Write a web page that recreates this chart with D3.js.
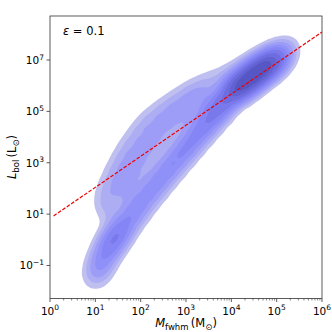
<!DOCTYPE html>
<html>
<head>
<meta charset="utf-8">
<script src="https://cdn.jsdelivr.net/npm/d3@7"></script>
<style>
  body { margin: 0; background: #fff; }
  text { font-family: "DejaVu Sans", sans-serif; fill: #000; }
</style>
</head>
<body>
<div id="graph"></div>
<script>
// representative sample points (log10 M_fwhm, log10 L_bol) with weights, read off the KDE shape
// ridge (lower tail -> core)
var ridgeLogM = [0.99, 1.06, 1.15, 1.26, 1.37, 1.50, 1.65, 1.83, 2.01, 2.21, 2.40, 2.60, 2.80, 3.00, 3.20, 3.40, 3.60, 3.79,
  4.02, 4.21, 4.41, 4.61, 4.79, 4.96, 5.12, 5.25]
var ridgeLogL = [-1.52, -1.17, -0.82, -0.43, -0.08, 0.23, 0.58, 1.01, 1.43, 1.86, 2.29, 2.72, 3.15, 3.57, 4.00, 4.43, 4.86, 5.29,
  5.72, 5.99, 6.26, 6.53, 6.77, 7.00, 7.23, 7.47]
var ridgeW = [0.3, 0.55, 0.8, 1.0, 1.15, 1.15, 1.05, 1.0, 0.95, 0.95, 1.0, 1.05, 1.1, 1.15, 1.25, 1.4, 1.65, 2.0,
  2.6, 3.2, 3.6, 3.4, 2.8, 1.9, 0.9, 0.3]
// upper-left shoulder (low density)
var shoulderLogM = [3.75, 4.13, 4.50, 4.85,
  3.42, 3.09, 2.78, 2.49, 2.21, 1.99, 1.79, 1.63, 1.48, 1.35, 1.24, 1.28,
  3.31, 3.02, 2.76, 2.51, 2.29, 2.10, 1.92, 1.76, 1.63]
var shoulderLogL = [6.30, 6.53, 6.84, 7.16,
  5.99, 5.68, 5.33, 4.98, 4.59, 4.12, 3.61, 3.11, 2.60, 2.10, 1.59, 1.08,
  5.44, 5.05, 4.66, 4.24, 3.77, 3.30, 2.80, 2.29, 1.78]
var shoulderW = [0.3, 0.4, 0.4, 0.3,
  0.45, 0.45, 0.45, 0.45, 0.45, 0.45, 0.45, 0.45, 0.45, 0.42, 0.38, 0.32,
  0.5, 0.5, 0.5, 0.5, 0.5, 0.5, 0.5, 0.45, 0.4]

// fill levels as share of peak density
var levels = [0.03, 0.065, 0.11, 0.17, 0.24, 0.33, 0.45, 0.6, 0.76]
var levelColors = ['#c0c0f0', '#adadf3', '#9d9df7', '#9090f9', '#8585f5', '#7979ec', '#6d6de0', '#6262d2', '#5656c4']

// red dashed relation
var lineM = [1.2, 1e6]
var lineL = [8.5, 1.23e8]

var xTicks = [1e0, 1e1, 1e2, 1e3, 1e4, 1e5, 1e6]
var yTicks = [1e-1, 1e1, 1e3, 1e5, 1e7]

var W = 332, H = 332
var m = {left: 50, right: 10, top: 16, bottom: 33.5}

var svg = d3.select('#graph').append('svg').attr('width', W).attr('height', H)

var x = d3.scaleLog().domain([1, 1e6]).range([m.left, W - m.right])
var y = d3.scaleLog().domain([Math.pow(10, -2.285), Math.pow(10, 8.713)]).range([H - m.bottom, m.top])

var pts = ridgeLogM.map((d, i) => ({m: Math.pow(10, d), l: Math.pow(10, ridgeLogL[i]), w: ridgeW[i]}))
  .concat(shoulderLogM.map((d, i) => ({m: Math.pow(10, d), l: Math.pow(10, shoulderLogL[i]), w: shoulderW[i]})))

svg.append('clipPath').attr('id', 'clip')
  .append('rect').attr('x', m.left).attr('y', m.top)
  .attr('width', W - m.left - m.right).attr('height', H - m.top - m.bottom)

var dens = d3.contourDensity()
  .x(d => x(d.m))
  .y(d => y(d.l))
  .weight(d => d.w)
  .size([W, H])
  .cellSize(2)
  .bandwidth(8)

var contour = dens.contours(pts)
var g = svg.append('g').attr('clip-path', 'url(#clip)')
levels.forEach((lv, i) => {
  g.append('path')
    .attr('d', d3.geoPath()(contour(lv * contour.max)))
    .attr('fill', levelColors[i])
})

g.append('path')
  .attr('d', d3.line().x(d => x(d[0])).y(d => y(d[1]))(lineM.map((d, i) => [d, lineL[i]])))
  .attr('fill', 'none').attr('stroke', '#ee0000').attr('stroke-width', 1.2)
  .attr('stroke-dasharray', '3.7,1.6')

// axes
var ax = svg.append('g')
ax.append('rect').attr('x', m.left).attr('y', m.top)
  .attr('width', W - m.left - m.right).attr('height', H - m.top - m.bottom)
  .attr('fill', 'none').attr('stroke', '#333').attr('stroke-width', 0.8)

var yb = H - m.bottom
xTicks.forEach(t => {
  ax.append('line').attr('x1', x(t)).attr('x2', x(t)).attr('y1', yb).attr('y2', yb + 3.5).attr('stroke', '#333').attr('stroke-width', 0.8)
  var tx = ax.append('text').attr('x', x(t)).attr('y', yb + 16).attr('text-anchor', 'middle').attr('font-size', 10.5)
  tx.append('tspan').text('10')
  tx.append('tspan').attr('dy', -4.5).attr('font-size', 7.5).text(Math.round(Math.log10(t)))
  if (t < 1e6) {
    for (var k = 2; k < 10; k++) {
      ax.append('line').attr('x1', x(t * k)).attr('x2', x(t * k)).attr('y1', yb).attr('y2', yb + 2).attr('stroke', '#333').attr('stroke-width', 0.6)
    }
  }
})
yTicks.forEach(t => {
  ax.append('line').attr('x1', m.left - 3.5).attr('x2', m.left).attr('y1', y(t)).attr('y2', y(t)).attr('stroke', '#333').attr('stroke-width', 0.8)
  var e = Math.round(Math.log10(t))
  var tx = ax.append('text').attr('x', m.left - 6).attr('y', y(t) + 4).attr('text-anchor', 'end').attr('font-size', 10.5)
  tx.append('tspan').text('10')
  tx.append('tspan').attr('dy', -4.5).attr('font-size', 7.5).text(e < 0 ? '\u22121' : e)
})

var xl = ax.append('text').attr('x', 186).attr('y', 327).attr('text-anchor', 'middle').attr('font-size', 11.5)
xl.append('tspan').attr('font-style', 'italic').text('M')
xl.append('tspan').attr('dy', 2.5).attr('font-size', 8.5).text('fwhm')
xl.append('tspan').attr('dy', -2.5).text('\u2009(M')
xl.append('tspan').attr('dy', 2.5).attr('font-size', 8.5).text('\u2299')
xl.append('tspan').attr('dy', -2.5).text(')')

var yl = ax.append('text').attr('transform', 'translate(16,157) rotate(-90)').attr('text-anchor', 'middle').attr('font-size', 11.5)
yl.append('tspan').attr('font-style', 'italic').text('L')
yl.append('tspan').attr('dy', 2.5).attr('font-size', 8.5).text('bol')
yl.append('tspan').attr('dy', -2.5).text('\u2009(L')
yl.append('tspan').attr('dy', 2.5).attr('font-size', 8.5).text('\u2299')
yl.append('tspan').attr('dy', -2.5).text(')')

var et = ax.append('text').attr('x', 63).attr('y', 34.5).attr('font-size', 11.5)
et.append('tspan').attr('font-style', 'italic').text('\u03b5')
et.append('tspan').text(' = 0.1')
</script>
</body>
</html>
